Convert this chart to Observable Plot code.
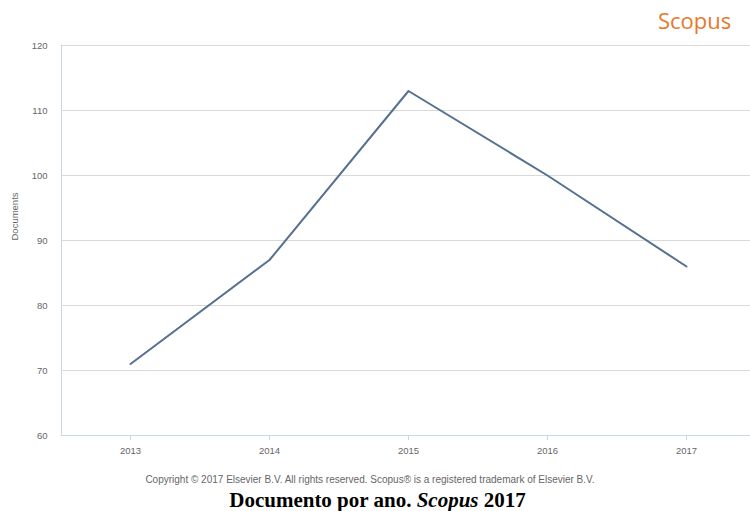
<!DOCTYPE html>
<html>
<head>
<meta charset="utf-8">
<script src="https://cdn.jsdelivr.net/npm/d3@7"></script>
<script src="https://cdn.jsdelivr.net/npm/@observablehq/plot@0.6"></script>
<style>
  html, body { margin: 0; padding: 0; background: #fff; }
  #wrap { position: relative; width: 750px; height: 511px; overflow: hidden; font-family: "Liberation Sans", Arial, sans-serif; }
  #logo { position: absolute; top: 5px; left: 658px; font-family: "Open Sans", sans-serif; font-size: 22px; color: #e8782a; }
  #chart { position: absolute; top: 0; left: 0; }
  #copy { position: absolute; top: 474px; left: 0; width: 740px; text-align: center; font-size: 10px; color: #666; }
  #caption { position: absolute; top: 488px; left: 0; width: 755px; text-align: center; font-family: "Liberation Serif", "Times New Roman", serif; font-weight: bold; font-size: 21px; color: #000; }
</style>
</head>
<body>
<div id="wrap">
  <div id="chart"></div>
  <div id="logo">Scopus</div>
  <div id="copy">Copyright © 2017 Elsevier B.V. All rights reserved. Scopus® is a registered trademark of Elsevier B.V.</div>
  <div id="caption">Documento por ano. <i>Scopus</i> 2017</div>
</div>
<script>
const years = ["2013", "2014", "2015", "2016", "2017"];
const documents = [71, 87, 113, 100, 86];
const yTicks = [60, 70, 80, 90, 100, 110, 120];
const yLabel = "Documents";

const data = years.map((y, i) => ({year: y, value: documents[i]}));

const chart = Plot.plot({
  width: 750,
  height: 465,
  marginTop: 45,
  marginBottom: 30,
  marginLeft: 61,
  marginRight: 0,
  style: {fontFamily: "'Liberation Sans', Arial, sans-serif", fontSize: "9px", background: "transparent"},
  x: {type: "point", domain: years, range: [129, 686], padding: 0},
  y: {domain: [60, 120]},
  marks: [
    Plot.gridY(yTicks, {stroke: "#d9d9d9", strokeOpacity: 1}),
    Plot.frame({anchor: "left", stroke: "#ccd6eb"}),
    Plot.ruleY([60], {stroke: "#ccd6eb"}),
    Plot.axisY(yTicks, {tickSize: 0, tickPadding: 14, fill: "#666", fontSize: 9.5, label: null}),
    Plot.axisX({tickSize: 5, stroke: "#ccd6eb", tickPadding: 7, fill: "#666", fontSize: 9.5, label: null}),
    Plot.text([yLabel], {frameAnchor: "left", dx: -47, rotate: -90, fill: "#666", fontSize: 9.5}),
    Plot.line(data, {x: "year", y: "value", stroke: "#56708f", strokeWidth: 2})
  ]
});
document.getElementById("chart").appendChild(chart);
</script>
</body>
</html>
